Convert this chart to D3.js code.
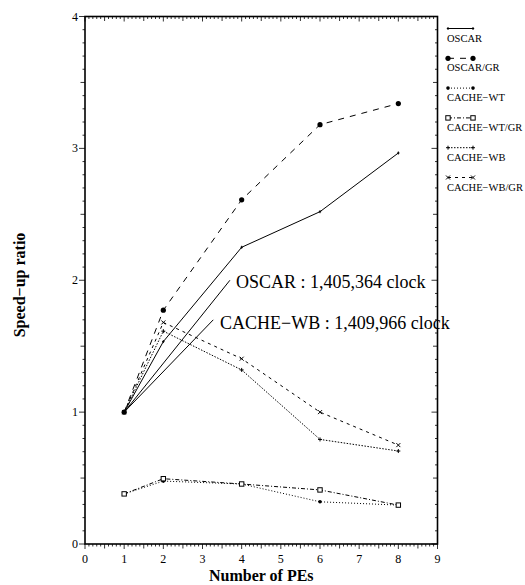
<!DOCTYPE html>
<html><head><meta charset="utf-8">
<script src="https://cdn.jsdelivr.net/npm/d3@7"></script>
<style>body{margin:0;background:#fff}svg{display:block}</style>
</head><body><svg id="c" width="525" height="585"></svg>
<script>
const pes = [1, 2, 4, 6, 8];
const oscar = [1.0, 1.535, 2.25, 2.52, 2.965];
const oscarGR = [1.0, 1.773, 2.61, 3.18, 3.34];
const cacheWT = [0.38, 0.477, 0.455, 0.32, 0.295];
const cacheWTGR = [0.38, 0.495, 0.455, 0.41, 0.295];
const cacheWB = [1.0, 1.614, 1.32, 0.793, 0.705];
const cacheWBGR = [1.0, 1.68, 1.405, 1.0, 0.75];
const seriesNames = ["OSCAR", "OSCAR/GR", "CACHE\u2212WT", "CACHE\u2212WT/GR", "CACHE\u2212WB", "CACHE\u2212WB/GR"];
const xTicks = [0,1,2,3,4,5,6,7,8,9];
const yTicks = [0,1,2,3,4];
const annotLabels = ["OSCAR : 1,405,364 clock", "CACHE\u2212WB : 1,409,966 clock"];
const annotText = [[3.855, 1.94], [3.447, 1.63]];
const annotEnd = [[3.70, 2.0], [3.275, 1.70]];

const svg = d3.select("#c");
const font = "'Liberation Serif','Times New Roman',serif";
const x = d3.scaleLinear().domain([0, 9]).range([85, 437.5]);
const y = d3.scaleLinear().domain([0, 4]).range([544, 16.5]);

const styles = [
  {dash: null, marker: "tick"},
  {dash: "6,6", marker: "dot"},
  {dash: "1,2", marker: "sdot"},
  {dash: "4,2,1,2", marker: "square"},
  {dash: "1.5,1.5", marker: "plus"},
  {dash: "3,4", marker: "cross"}
];
const allSeries = [oscar, oscarGR, cacheWT, cacheWTGR, cacheWB, cacheWBGR];

function marker(g, type, cx, cy) {
  if (type === "dot") g.append("circle").attr("cx", cx).attr("cy", cy).attr("r", 2.6).attr("fill", "#000");
  else if (type === "sdot") g.append("circle").attr("cx", cx).attr("cy", cy).attr("r", 1.8).attr("fill", "#000");
  else if (type === "square") g.append("rect").attr("x", cx - 2.2).attr("y", cy - 2.2).attr("width", 4.4).attr("height", 4.4).attr("fill", "#fff").attr("stroke", "#000").attr("stroke-width", 1);
  else if (type === "plus") g.append("path").attr("d", `M${cx-2},${cy}H${cx+2}M${cx},${cy-2}V${cy+2}`).attr("stroke", "#000").attr("stroke-width", 1);
  else if (type === "cross") g.append("path").attr("d", `M${cx-2},${cy-2}L${cx+2},${cy+2}M${cx-2},${cy+2}L${cx+2},${cy-2}`).attr("stroke", "#000").attr("stroke-width", 1);
  else if (type === "tick") g.append("path").attr("d", `M${cx-1.2},${cy}H${cx+1.2}M${cx},${cy-1.5}V${cy+1.5}`).attr("stroke", "#000").attr("stroke-width", 1);
}

// axes frame
const axG = svg.append("g");
const xMinor = d3.range(0, 90.5).map(i => i / 10);
const yMinor = d3.range(0, 40.5).map(i => i / 10);
function tlen(v, major) { const r = Math.round(v * 10); if (r % 10 === 0) return major; if (r % 5 === 0) return 4.5; return 2.5; }
xMinor.forEach(v => {
  const L = tlen(v, 5);
  axG.append("line").attr("x1", x(v)).attr("x2", x(v)).attr("y1", y(0)).attr("y2", y(0) + L).attr("stroke", "#000").attr("stroke-width", 0.8);
  axG.append("line").attr("x1", x(v)).attr("x2", x(v)).attr("y1", y(4)).attr("y2", y(4) + L).attr("stroke", "#000").attr("stroke-width", 0.8);
});
yMinor.forEach(v => {
  const L = tlen(v, 6);
  axG.append("line").attr("x1", x(0)).attr("x2", x(0) - L).attr("y1", y(v)).attr("y2", y(v)).attr("stroke", "#000").attr("stroke-width", 0.8);
  axG.append("line").attr("x1", x(9)).attr("x2", x(9) - L).attr("y1", y(v)).attr("y2", y(v)).attr("stroke", "#000").attr("stroke-width", 0.8);
});
axG.append("rect").attr("x", x(0)).attr("y", y(4)).attr("width", x(9) - x(0)).attr("height", y(0) - y(4)).attr("fill", "none").attr("stroke", "#000").attr("stroke-width", 1.6);

axG.selectAll(".xt").data(xTicks).enter().append("text")
  .attr("x", d => x(d)).attr("y", y(0) + 19).attr("text-anchor", "middle")
  .attr("font-family", font).attr("font-size", 12).text(d => d);
axG.selectAll(".yt").data(yTicks).enter().append("text")
  .attr("x", x(0) - 7).attr("y", d => y(d) + 4).attr("text-anchor", "end")
  .attr("font-family", font).attr("font-size", 12).text(d => d);

svg.append("text").attr("x", (x(0) + x(9)) / 2).attr("y", 581).attr("text-anchor", "middle")
  .attr("font-family", font).attr("font-size", 16).attr("font-weight", "bold").text("Number of PEs");
svg.append("text").attr("transform", "translate(25,285) rotate(-90)").attr("text-anchor", "middle")
  .attr("font-family", font).attr("font-size", 16).attr("font-weight", "bold").text("Speed\u2212up ratio");

const line = d3.line().x(d => x(d[0])).y(d => y(d[1]));
allSeries.forEach((vals, i) => {
  const pts = pes.map((p, j) => [p, vals[j]]);
  const g = svg.append("g");
  g.append("path").attr("d", line(pts)).attr("fill", "none").attr("stroke", "#000").attr("stroke-width", 1)
    .attr("stroke-dasharray", styles[i].dash);
  pts.forEach(p => marker(g, styles[i].marker, x(p[0]), y(p[1])));
});

annotLabels.forEach((t, i) => {
  svg.append("line").attr("x1", x(1)).attr("y1", y(1)).attr("x2", x(annotEnd[i][0])).attr("y2", y(annotEnd[i][1]))
    .attr("stroke", "#000").attr("stroke-width", 1);
  svg.append("text").attr("x", x(annotText[i][0])).attr("y", y(annotText[i][1]))
    .attr("font-family", font).attr("font-size", 18).text(t);
});

const legY0 = 28.5, legStep = 29.8;
seriesNames.forEach((n, i) => {
  const ly = legY0 + i * legStep;
  const g = svg.append("g");
  g.append("line").attr("x1", 448).attr("x2", 473).attr("y1", ly).attr("y2", ly).attr("stroke", "#000").attr("stroke-width", 1)
    .attr("stroke-dasharray", styles[i].dash);
  marker(g, styles[i].marker, 448, ly);
  marker(g, styles[i].marker, 473, ly);
  g.append("text").attr("x", 447).attr("y", ly + 13).attr("font-family", font).attr("font-size", 10.5).text(n);
});
</script></body></html>
